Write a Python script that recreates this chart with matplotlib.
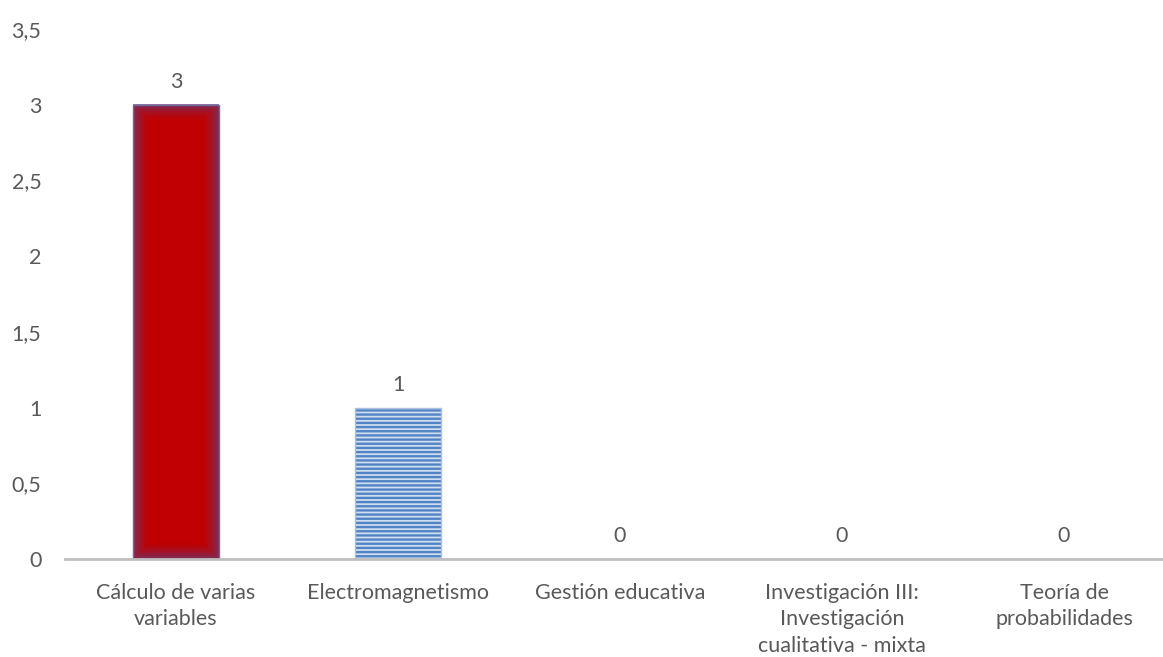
import numpy as np
import matplotlib
matplotlib.use("Agg")
import matplotlib.pyplot as plt
from matplotlib.ticker import FuncFormatter

# Data
categories = ["Cálculo de varias\nvariables", "Electromagnetismo", "Gestión educativa",
              "Investigación III:\nInvestigación\ncualitativa - mixta", "Teoría de\nprobabilidades"]
values = [3, 1, 0, 0, 0]
yticks = [0, 0.5, 1, 1.5, 2, 2.5, 3, 3.5]

plt.rcParams['font.family'] = ['Lato', 'DejaVu Sans']
plt.rcParams['hatch.linewidth'] = 1.7
text_color = '#595959'
fs = 15.5

fig = plt.figure(figsize=(11.63, 6.57), dpi=100)
ax = fig.add_axes([65 / 1163, 98 / 657, 1098 / 1163, 530 / 657])

x = np.arange(len(categories))
width = 0.385

# fill (hatch takes the edge colour, so outline is drawn separately)
bars = ax.bar(x, values, width=width, color=['#C00000', '#CFDDF1', 'none', 'none', 'none'],
              edgecolor=['#C00000', '#5283C4', 'none', 'none', 'none'], linewidth=0, zorder=2)
bars[1].set_hatch('----')
ax.bar(x, values, width=width, color='none',
       edgecolor=['#6F6A9A', '#A9C0E2', 'none', 'none', 'none'], linewidth=1.0, zorder=4)

# soft darker inner shading on the red bar
b = bars[0]
bx, bw, bh = b.get_x(), b.get_width(), b.get_height()
ny, nx = 300, 60
yy, xx = np.mgrid[0:ny, 0:nx]
dx = np.minimum(xx, nx - 1 - xx) / nx * bw * 222
dy = np.minimum(yy, ny - 1 - yy) / ny * bh * 151.5
d = np.minimum(dx, dy)
alpha = np.clip(1 - d / 16.0, 0, 1) ** 1.4 * 0.7
shade = np.zeros((ny, nx, 4))
shade[..., 0] = 0.40
shade[..., 1] = 0.24
shade[..., 2] = 0.48
shade[..., 3] = alpha
ax.imshow(shade, extent=[bx, bx + bw, 0, bh], aspect='auto', zorder=3, interpolation='bilinear')

# data labels
for xi, v in zip(x, values):
    ax.annotate(str(v), (xi, v), xytext=(0, 9), textcoords='offset points',
                ha='center', va='bottom', fontsize=fs, color=text_color)

ax.set_xlim(-0.5, -0.5 + 1098 / 222)
ax.set_ylim(0, 3.5)
ax.set_yticks(yticks)
ax.yaxis.set_major_formatter(FuncFormatter(lambda v, p: ('%g' % v).replace('.', ',')))
ax.set_xticks(x)
ax.set_xticklabels(categories, fontsize=fs, color=text_color, linespacing=1.42)
ax.tick_params(axis='y', labelsize=fs, labelcolor=text_color, length=0, pad=17)
ax.tick_params(axis='x', length=0, pad=17)

for s in ['top', 'right', 'left']:
    ax.spines[s].set_visible(False)
ax.spines['bottom'].set_color('#BFBFBF')
ax.spines['bottom'].set_linewidth(2)
ax.spines['bottom'].set_zorder(5)

fig.savefig('out.png', dpi=100)
